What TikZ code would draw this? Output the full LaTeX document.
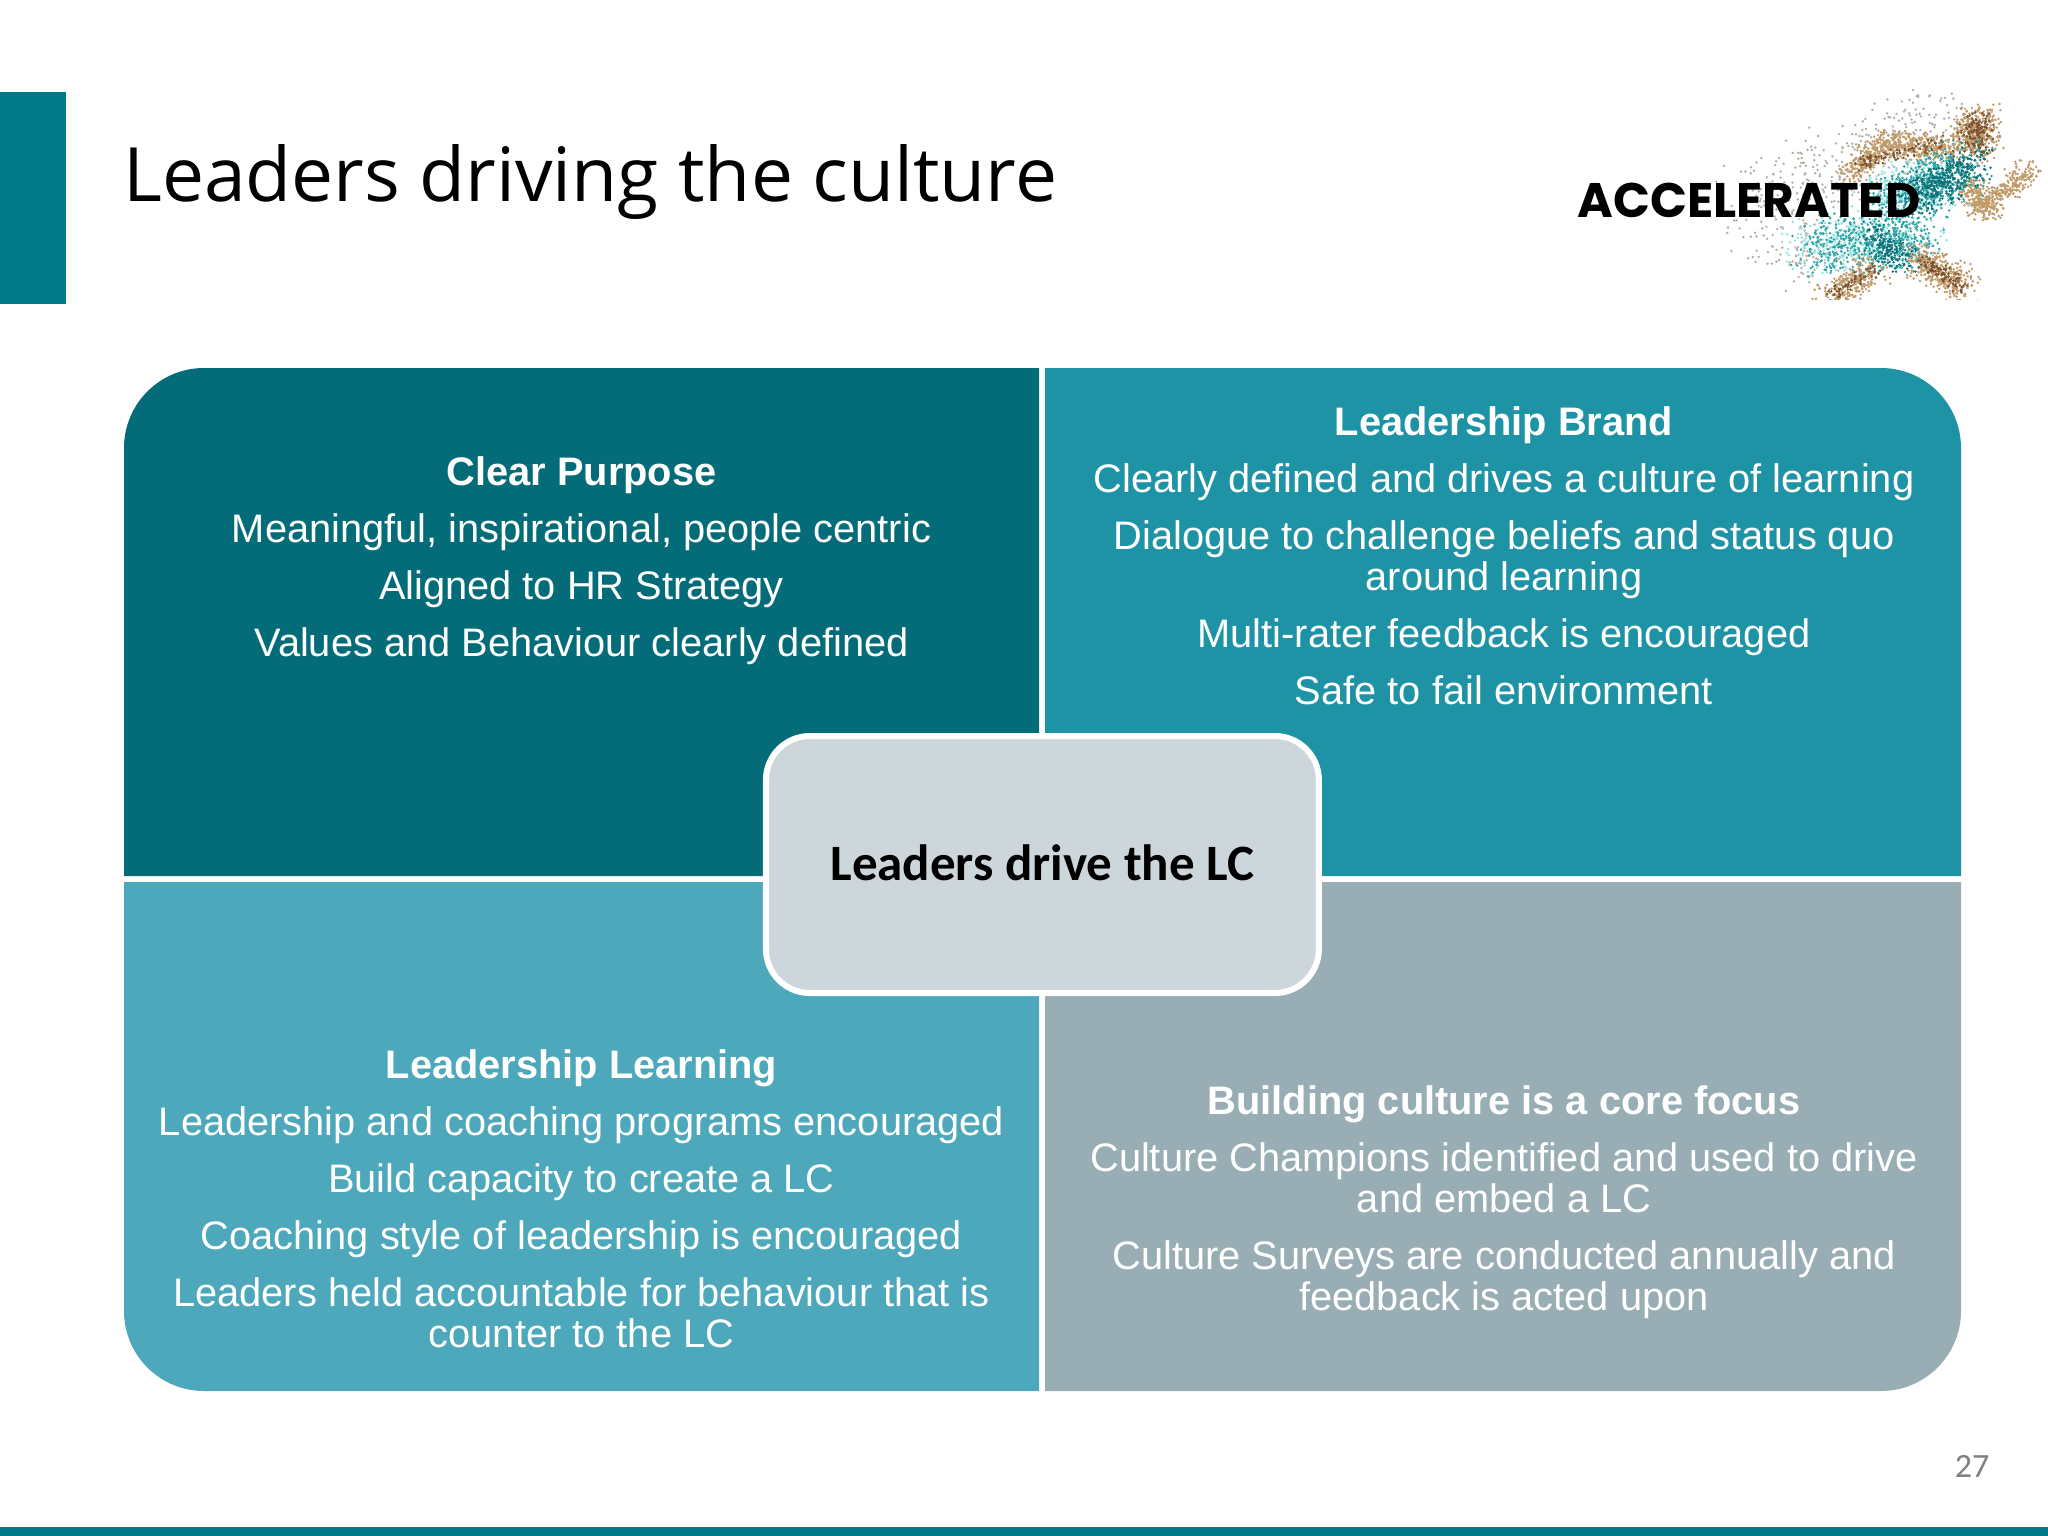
\documentclass[tikz,border=0pt]{standalone}
\usepackage{fontspec}
\setmainfont{Liberation Sans}
\newfontfamily\titlefont{Open Sans}
\newfontfamily\calfont{Carlito}
\newfontfamily\logofont{Poppins}
\definecolor{tlcol}{HTML}{046C78}
\definecolor{trcol}{HTML}{1F93A6}
\definecolor{blcol}{HTML}{4CA8BA}
\definecolor{brcol}{HTML}{98AEB4}
\definecolor{midcol}{HTML}{CDD6DA}
\definecolor{barcol}{HTML}{007987}
\definecolor{numcol}{HTML}{7F7F85}
\definecolor{skin}{HTML}{C09A68}
\definecolor{skindk}{HTML}{7A5230}
\definecolor{tealdk}{HTML}{0F7078}
\definecolor{tealmd}{HTML}{2FA3A5}
\definecolor{teallt}{HTML}{8FE3E0}
\definecolor{dust}{HTML}{B5AFA5}
\tikzset{
  bodytext/.style={align=center,text=white,font=\fontsize{39.8}{41}\selectfont,inner sep=0pt}
}
% scatter: x1 y1 x2 y2 spreadx spready colour count
\newcommand{\speckle}[8]{%
  \foreach \k in {1,...,#8}{%
    \pgfmathsetmacro{\tt}{rnd}%
    \pgfmathsetmacro{\ax}{1500+1.0486*(#1+(#3-#1)*\tt+#5*(rand+rand)/2-1500)}%
    \pgfmathsetmacro{\ay}{#2+(#4-#2)*\tt+#6*(rand+rand)/2}%
    \fill[#7] (\ax,\ay) circle[radius=1.35];%
  }%
}
\begin{document}
\begin{tikzpicture}[x=1pt,y=-1pt]
\pgfmathsetseed{27}
\useasboundingbox (0,0) rectangle (2048,1536);
\fill[white] (0,0) rectangle (2048,1536);
\fill[barcol] (0,92) rectangle (66,304);
\fill[barcol] (0,1527) rectangle (2048,1536);
\node[anchor=base west,inner sep=0pt,font=\titlefont\fontsize{75}{75}\selectfont] (title) at (123,201) {Leaders driving the culture};
% logo particles
\begin{scope}
\clip (1680,90) rectangle (2048,299);
\speckle{1730}{215}{1930}{115}{45}{50}{dust}{420}
\speckle{1790}{250}{1790}{270}{60}{30}{dust}{70}
\speckle{1833}{172}{1867}{143}{16}{16}{skin}{240}
\speckle{1867}{143}{1933}{150}{16}{16}{skin}{340}
\speckle{1840}{165}{1925}{142}{8}{8}{skindk}{90}
\speckle{1955}{125}{1955}{142}{26}{28}{skin}{380}
\speckle{1955}{125}{1955}{142}{20}{22}{skindk}{130}
\speckle{1947}{183}{1962}{212}{16}{14}{skin}{220}
\speckle{1962}{212}{2006}{167}{15}{15}{skin}{260}
\speckle{1860}{195}{1925}{180}{32}{30}{teallt}{300}
\speckle{1785}{245}{1900}{240}{32}{34}{teallt}{460}
\speckle{1800}{245}{1905}{240}{34}{34}{tealmd}{500}
\speckle{1870}{205}{1945}{165}{36}{32}{tealmd}{560}
\speckle{1895}{200}{1950}{165}{24}{22}{tealdk}{340}
\speckle{1855}{235}{1885}{262}{18}{18}{tealdk}{170}
\speckle{1900}{258}{1942}{288}{20}{20}{skin}{360}
\speckle{1900}{258}{1942}{288}{9}{9}{skindk}{90}
\speckle{1858}{268}{1815}{298}{20}{18}{skin}{270}
\speckle{1858}{268}{1815}{298}{8}{8}{skindk}{60}
\end{scope}
\node[anchor=base,inner sep=0pt,font=\logofont\bfseries\fontsize{48.5}{48.5}\selectfont] (logo) at (1749,217) {ACCELERATED};
% quadrants
\fill[tlcol] (1039,876) -- (1039,368) [rounded corners=80pt] -- (124,368) [sharp corners] -- (124,876) -- cycle;
\fill[trcol] (1045,876) -- (1045,368) [rounded corners=80pt] -- (1961,368) [sharp corners] -- (1961,876) -- cycle;
\fill[blcol] (1039,882) -- (1039,1391) [rounded corners=80pt] -- (124,1391) [sharp corners] -- (124,882) -- cycle;
\fill[brcol] (1045,882) -- (1045,1391) [rounded corners=80pt] -- (1961,1391) [sharp corners] -- (1961,882) -- cycle;
% text
\node[bodytext] (tltext) at (581.5,560.5) {{\bfseries Clear Purpose}\\[16pt]
Meaningful, inspirational, people centric\\[16pt]
Aligned to HR Strategy\\[16pt]
Values and Behaviour clearly defined};
\node[bodytext] (trtext) at (1504,555.5) {{\bfseries Leadership Brand}\\[16pt]
Clearly defined and drives a culture of learning\\[16pt]
Dialogue to challenge beliefs and status quo\\
around learning\\[16pt]
Multi-rater feedback is encouraged\\[16pt]
Safe to fail environment};
\node[bodytext] (bltext) at (581.5,1198.5) {{\bfseries Leadership Learning}\\[16pt]
Leadership and coaching programs encouraged\\[16pt]
Build capacity to create a LC\\[16pt]
Coaching style of leadership is encouraged\\[16pt]
Leaders held accountable for behaviour that is\\
counter to the LC};
\node[bodytext] (brtext) at (1504,1202.5) {{\bfseries Building culture is a core focus}\\[16pt]
Culture Champions identified and used to drive\\
and embed a LC\\[16pt]
Culture Surveys are conducted annually and\\
feedback is acted upon};
% centre
\node[draw=white,line width=6pt,fill=midcol,rounded corners=44pt,minimum width=553pt,minimum height=257pt,inner sep=0pt,font=\calfont\bfseries\fontsize{51}{51}\selectfont] (centre) at (1042.4,864.5) {\raisebox{4pt}{Leaders drive the LC}};
\node[anchor=base,inner sep=0pt,text=numcol,font=\calfont\fontsize{34}{34}\selectfont] (page) at (1972,1477) {27};
\end{tikzpicture}
\end{document}
